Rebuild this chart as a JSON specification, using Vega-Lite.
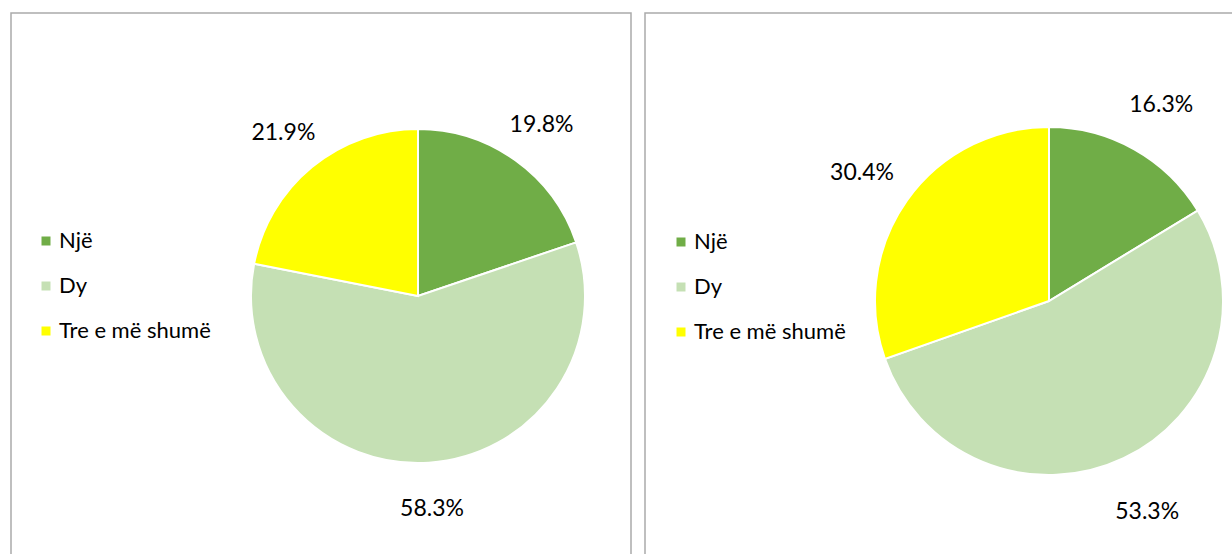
{
  "$schema": "https://vega.github.io/schema/vega-lite/v6.json",
  "padding": {"left": 10, "top": 12, "right": 0, "bottom": 0},
  "spacing": 12,
  "background": "white",
  "config": {
    "view": {"stroke": "#ABABAB", "strokeWidth": 1.5},
    "font": "Lato",
    "legend": {
      "labelFont": "Lato", "labelFontSize": 22, "labelColor": "#000000",
      "symbolType": "square", "symbolSize": 81, "symbolStrokeWidth": 0,
      "rowPadding": 23, "labelOffset": 2, "title": null
    }
  },
  "data": {"values": [
    {"panel": "A", "cat": "Një", "o": 1, "v": 0.198},
    {"panel": "A", "cat": "Dy", "o": 2, "v": 0.583},
    {"panel": "A", "cat": "Tre e më shumë", "o": 3, "v": 0.219},
    {"panel": "B", "cat": "Një", "o": 1, "v": 0.163},
    {"panel": "B", "cat": "Dy", "o": 2, "v": 0.533},
    {"panel": "B", "cat": "Tre e më shumë", "o": 3, "v": 0.304}
  ]},
  "resolve": {"legend": {"color": "independent"}},
  "hconcat": [
    {
      "width": 620, "height": 560,
      "view": {"stroke": "#ABABAB", "strokeWidth": 1.5},
      "transform": [{"filter": "datum.panel === 'A'"}],
      "encoding": {
        "theta": {"field": "v", "type": "quantitative", "stack": true},
        "order": {"field": "o", "type": "quantitative"}
      },
      "layer": [
        {
          "mark": {"type": "arc", "x": 407, "y": 283, "outerRadius": 167, "stroke": "white", "strokeWidth": 2},
          "encoding": {
            "color": {"field": "cat", "type": "nominal",
              "scale": {"domain": ["Një", "Dy", "Tre e më shumë"], "range": ["#70AD47", "#C5E0B4", "#FFFF00"]},
              "legend": {"orient": "none", "legendX": 24, "legendY": 217}}
          }
        },
        {
          "mark": {"type": "text", "x": 407, "y": 284, "radius": 212, "fontSize": 23, "font": "Lato", "color": "#000000"},
          "encoding": {"text": {"field": "v", "type": "quantitative", "format": ".1%"}}
        }
      ]
    },
    {
      "width": 600, "height": 560,
      "view": {"stroke": "#ABABAB", "strokeWidth": 1.5},
      "transform": [{"filter": "datum.panel === 'B'"}],
      "encoding": {
        "theta": {"field": "v", "type": "quantitative", "stack": true},
        "order": {"field": "o", "type": "quantitative"}
      },
      "layer": [
        {
          "mark": {"type": "arc", "x": 404, "y": 288, "outerRadius": 174, "stroke": "white", "strokeWidth": 2},
          "encoding": {
            "color": {"field": "cat", "type": "nominal",
              "scale": {"domain": ["Një", "Dy", "Tre e më shumë"], "range": ["#70AD47", "#C5E0B4", "#FFFF00"]},
              "legend": {"orient": "none", "legendX": 25, "legendY": 218}}
          }
        },
        {
          "mark": {"type": "text", "x": 404, "y": 292, "radius": 229, "fontSize": 23, "font": "Lato", "color": "#000000"},
          "encoding": {"text": {"field": "v", "type": "quantitative", "format": ".1%"}}
        }
      ]
    }
  ]
}
